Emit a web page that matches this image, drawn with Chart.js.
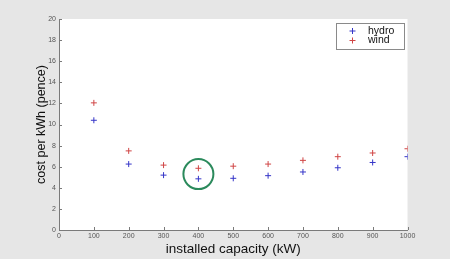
<!DOCTYPE html>
<html>
<head>
<meta charset="utf-8">
<script src="https://cdn.jsdelivr.net/npm/chart.js@4/dist/chart.umd.min.js"></script>
<style>
html,body{margin:0;padding:0;background:#e6e6e6;}
#wrap{width:450px;height:259px;position:relative;}
</style>
</head>
<body>
<div id="wrap"><canvas id="c" width="450" height="259"></canvas></div>
<script>
const capacity = [100, 200, 300, 400, 500, 600, 700, 800, 900, 1000];
const hydro = [10.4, 6.25, 5.2, 4.85, 4.9, 5.15, 5.5, 5.9, 6.4, 6.95];
const wind = [12.05, 7.5, 6.15, 5.85, 6.05, 6.25, 6.6, 6.95, 7.3, 7.7];
const seriesNames = ['hydro', 'wind'];
const highlight = {x: 400, y: 5.3};

const FONT = '"Liberation Sans", Arial, sans-serif';

const bgPlugin = {
  id: 'bg',
  beforeDraw(chart) {
    const {ctx, chartArea: a} = chart;
    ctx.save();
    ctx.fillStyle = '#e6e6e6';
    ctx.fillRect(0, 0, chart.width, chart.height);
    ctx.fillStyle = '#ffffff';
    ctx.fillRect(a.left, a.top, a.right - a.left, a.bottom - a.top);
    ctx.restore();
  },
  afterDraw(chart) {
    const {ctx, chartArea: a, scales} = chart;
    ctx.save();
    // inward ticks
    ctx.strokeStyle = '#7a7a7a';
    ctx.lineWidth = 1;
    scales.x.ticks.forEach(t => {
      const px = Math.round(scales.x.getPixelForValue(t.value)) + 0.5;
      ctx.beginPath(); ctx.moveTo(px, a.bottom); ctx.lineTo(px, a.bottom - 3); ctx.stroke();
    });
    scales.y.ticks.forEach(t => {
      const py = Math.round(scales.y.getPixelForValue(t.value)) + 0.5;
      ctx.beginPath(); ctx.moveTo(a.left, py); ctx.lineTo(a.left + 3, py); ctx.stroke();
    });
    // highlight circle
    const cx = scales.x.getPixelForValue(highlight.x);
    const cy = scales.y.getPixelForValue(highlight.y);
    ctx.strokeStyle = '#2b8a5c';
    ctx.lineWidth = 2;
    ctx.beginPath(); ctx.arc(cx, cy, 15, 0, Math.PI * 2); ctx.stroke();
    // legend box
    const lx = 336, ly = 23.5, lw = 68, lh = 26;
    ctx.fillStyle = '#ffffff';
    ctx.fillRect(lx, ly, lw, lh);
    ctx.strokeStyle = '#8a8a8a';
    ctx.lineWidth = 1;
    ctx.strokeRect(lx + 0.5, ly, lw, lh);
    const colors = chart.data.datasets.map(d => d.borderColor);
    ctx.font = '10.5px ' + FONT;
    ctx.textBaseline = 'middle';
    chart.data.datasets.forEach((d, i) => {
      const yy = ly + 7.5 + i * 9.5;
      ctx.strokeStyle = colors[i];
      ctx.beginPath();
      ctx.moveTo(349.5, yy); ctx.lineTo(355.5, yy);
      ctx.moveTo(352.5, yy - 3); ctx.lineTo(352.5, yy + 3);
      ctx.stroke();
      ctx.fillStyle = '#111';
      ctx.fillText(d.label, 368, yy);
    });
    ctx.restore();
  }
};

new Chart(document.getElementById('c'), {
  type: 'scatter',
  data: {
    datasets: [
      {label: seriesNames[0], data: capacity.map((x, i) => ({x, y: hydro[i]})),
       pointStyle: 'cross', radius: 3, hoverRadius: 3, borderWidth: 1,
       borderColor: '#3535c8', backgroundColor: '#3535c8'},
      {label: seriesNames[1], data: capacity.map((x, i) => ({x, y: wind[i]})),
       pointStyle: 'cross', radius: 3, hoverRadius: 3, borderWidth: 1,
       borderColor: '#d04545', backgroundColor: '#d04545'}
    ]
  },
  options: {
    responsive: false,
    animation: false,
    events: [],
    layout: {padding: {left: 0, right: 42.5, top: 19, bottom: 0}},
    plugins: {legend: {display: false}, tooltip: {enabled: false}},
    scales: {
      x: {
        type: 'linear', min: 0, max: 1000,
        afterFit: s => { s.height = 29; },
        ticks: {stepSize: 100, font: {size: 7, family: FONT}, color: '#555', padding: 2, maxRotation: 0,
                callback: v => String(v)},
        grid: {display: true, drawOnChartArea: false, drawTicks: false},
        border: {display: true, color: '#7a7a7a'},
        title: {display: true, text: 'installed capacity (kW)', font: {size: 13.5, family: FONT}, color: '#111', padding: {top: 0, bottom: 2}}
      },
      y: {
        type: 'linear', min: 0, max: 20,
        afterFit: s => { s.width = 59; },
        ticks: {stepSize: 2, font: {size: 7, family: FONT}, color: '#555', padding: 3},
        grid: {display: true, drawOnChartArea: false, drawTicks: false},
        border: {display: true, color: '#7a7a7a'},
        title: {display: true, text: 'cost per kWh (pence)', font: {size: 12.5, family: FONT}, color: '#111', padding: {top: 34, bottom: 0}}
      }
    }
  },
  plugins: [bgPlugin]
});
</script>
</body>
</html>
